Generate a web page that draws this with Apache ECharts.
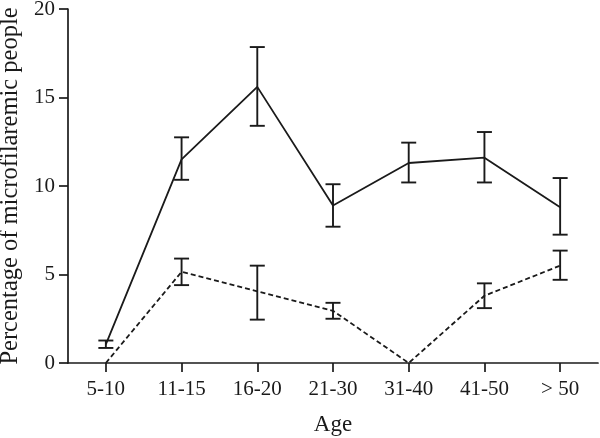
<!DOCTYPE html>
<html><head><meta charset="utf-8">
<script src="https://cdn.jsdelivr.net/npm/echarts@6/dist/echarts.min.js"></script>
<style>html,body{margin:0;padding:0;background:#fff}#c{width:600px;height:438px}</style>
</head><body><div id="c"></div>
<script>
const categories = ['5-10', '11-15', '16-20', '21-30', '31-40', '41-50', '> 50'];
const solidMean = [1.05, 11.5, 15.6, 8.9, 11.3, 11.6, 8.8];
const solidLow = [0.85, 10.35, 13.4, 7.7, 10.2, 10.2, 7.25];
const solidHigh = [1.27, 12.75, 17.85, 10.1, 12.45, 13.05, 10.45];
const dashedMean = [0, 5.15, 4.05, 2.95, 0, 3.8, 5.5];
const dashedLow = [null, 4.4, 2.45, 2.5, null, 3.1, 4.7];
const dashedHigh = [null, 5.9, 5.5, 3.4, null, 4.5, 6.35];
const yTicks = [0, 5, 10, 15, 20];

const FONT = 'Liberation Serif';
const INK = '#1a1a1a';

function errData(low, high) {
  const out = [];
  for (let i = 0; i < categories.length; i++) {
    if (low[i] != null && high[i] != null) out.push([i, low[i], high[i]]);
  }
  return out;
}
function errRender(params, api) {
  const x = api.value(0);
  const lo = api.coord([x, api.value(1)]);
  const hi = api.coord([x, api.value(2)]);
  const hw = 7.5;
  const style = { stroke: INK, lineWidth: 1.9, fill: null };
  return {
    type: 'group',
    children: [
      { type: 'line', shape: { x1: lo[0], y1: lo[1], x2: hi[0], y2: hi[1] }, style },
      { type: 'line', shape: { x1: hi[0] - hw, y1: hi[1], x2: hi[0] + hw, y2: hi[1] }, style },
      { type: 'line', shape: { x1: lo[0] - hw, y1: lo[1], x2: lo[0] + hw, y2: lo[1] }, style }
    ]
  };
}

const chart = echarts.init(document.getElementById('c'), null, { renderer: 'canvas' });
chart.setOption({
  animation: false,
  backgroundColor: '#fff',
  grid: { left: 68, right: 2, top: 9, bottom: 75, containLabel: false, outerBoundsMode: 'none' },
  xAxis: {
    type: 'category',
    data: categories,
    boundaryGap: true,
    name: 'Age',
    nameLocation: 'middle',
    nameGap: 50,
    nameTextStyle: { fontFamily: FONT, fontSize: 23, color: INK },
    axisLine: { lineStyle: { color: INK, width: 1.7 } },
    axisTick: { show: true, alignWithLabel: true, length: 9, lineStyle: { color: INK, width: 1.7 } },
    axisLabel: { fontFamily: FONT, fontSize: 21, color: INK, margin: 16, interval: 0 },
    splitLine: { show: false }
  },
  yAxis: {
    type: 'value',
    min: yTicks[0],
    max: yTicks[yTicks.length - 1],
    interval: 5,
    name: 'Percentage of microfilaremic people',
    nameLocation: 'middle',
    nameRotate: 90,
    nameGap: 42,
    nameTextStyle: { fontFamily: FONT, fontSize: 24.5, color: INK },
    axisLine: { show: true, lineStyle: { color: INK, width: 1.7 } },
    axisTick: { show: true, length: 9, lineStyle: { color: INK, width: 1.7 } },
    axisLabel: { fontFamily: FONT, fontSize: 21, color: INK, margin: 13 },
    splitLine: { show: false }
  },
  series: [
    {
      type: 'line', data: solidMean, symbol: 'none',
      lineStyle: { color: INK, width: 1.8, type: 'solid' }, z: 3
    },
    {
      type: 'line', data: dashedMean, symbol: 'none',
      lineStyle: { color: INK, width: 1.8, type: [5, 3] }, z: 3
    },
    { type: 'custom', renderItem: errRender, data: errData(solidLow, solidHigh), z: 4 },
    { type: 'custom', renderItem: errRender, data: errData(dashedLow, dashedHigh), z: 4 }
  ]
});
</script></body></html>
